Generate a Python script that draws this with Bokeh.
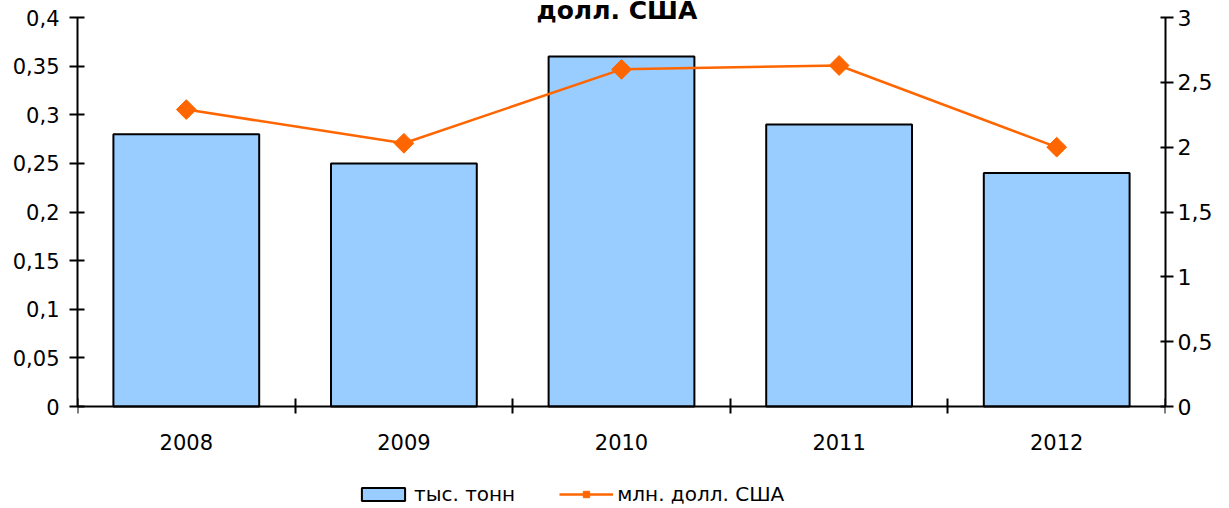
from bokeh.plotting import figure
from bokeh.models import (Range1d, LinearAxis, FixedTicker, CustomJSTickFormatter,
                          Legend, LegendItem, Title)
from bokeh.embed import file_html
from bokeh.resources import INLINE
import math

years = ["2008", "2009", "2010", "2011", "2012"]
tons = [0.28, 0.25, 0.36, 0.29, 0.24]          # тыс. тонн (left axis)
usd = [2.29, 2.03, 2.60, 2.63, 2.00]           # млн. долл. США (right axis)
left_ticks = [0, 0.05, 0.1, 0.15, 0.2, 0.25, 0.3, 0.35, 0.4]
right_ticks = [0, 0.5, 1, 1.5, 2, 2.5, 3]
title_text = "долл. США"
bar_label = "тыс. тонн"
line_label = "млн. долл. США"

FONT = "DejaVu Sans"
FS = "21px"

# layout: plotting area 389 px tall for the value range, plus 102 px below for labels/legend
AXIS_PX = 389
BELOW_PX = 102
LMAX, RMAX = 0.4, 3.0
lmin = -LMAX * BELOW_PX / AXIS_PX
rmin = -RMAX * BELOW_PX / AXIS_PX

xc = [i + 0.5 for i in range(len(years))]

p = figure(width=1229, height=508, frame_width=1088, frame_height=AXIS_PX + BELOW_PX,
           output_backend="svg", toolbar_location=None,
           x_range=Range1d(0, len(years)), y_range=Range1d(lmin, LMAX),
           min_border_left=77, min_border_right=64, min_border_top=0, min_border_bottom=0)
p.outline_line_color = None
p.xgrid.visible = False
p.ygrid.visible = False
p.background_fill_color = "white"

p.extra_y_ranges = {"r": Range1d(rmin, RMAX)}

fmt = CustomJSTickFormatter(code="return String(Math.round(tick*100)/100).replace('.', ',');")

# left axis
ya = p.yaxis[0]
ya.ticker = FixedTicker(ticks=left_ticks)
ya.formatter = fmt
ya.bounds = (0, LMAX)
ya.axis_line_width = 2
ya.axis_line_color = "black"
ya.major_tick_line_width = 2
ya.major_tick_in = 7
ya.major_tick_out = 8
ya.minor_tick_line_color = None
ya.major_label_standoff = 10
ya.major_label_text_font = FONT
ya.major_label_text_font_size = FS
ya.major_label_text_color = "black"

# right axis
ra = LinearAxis(y_range_name="r", ticker=FixedTicker(ticks=right_ticks), formatter=fmt,
                bounds=(0, RMAX))
ra.axis_line_width = 2
ra.axis_line_color = "black"
ra.major_tick_line_width = 2
ra.major_tick_in = 5
ra.major_tick_out = 8
ra.minor_tick_line_color = None
ra.major_label_standoff = 4
ra.major_label_text_font = FONT
ra.major_label_text_font_size = "22px"
ra.major_label_text_color = "black"
p.add_layout(ra, "right")

# x axis drawn at value 0
xa = p.xaxis[0]
xa.fixed_location = 0
xa.ticker = FixedTicker(ticks=xc, minor_ticks=list(range(len(years) + 1)))
xa.major_label_overrides = {x: y for x, y in zip(xc, years)}
xa.axis_line_width = 2
xa.axis_line_color = "black"
xa.major_tick_in = 0
xa.major_tick_out = 0
xa.minor_tick_line_width = 2
xa.minor_tick_line_color = "black"
xa.minor_tick_in = 8
xa.minor_tick_out = 7
xa.major_label_standoff = 20
xa.major_label_text_font = FONT
xa.major_label_text_font_size = FS
xa.major_label_text_color = "black"

bars = p.vbar(x=xc, top=tons, width=0.67, bottom=0, fill_color="#99CCFF",
              line_color="black", line_width=2)
ln = p.line(x=xc, y=usd, y_range_name="r", line_color="#FF6600", line_width=2.5)
mk = p.scatter(x=xc, y=usd, y_range_name="r", marker="square", angle=math.pi / 4,
               size=14, fill_color="#FF6600", line_color="#FF6600")

legend = Legend(items=[LegendItem(label=bar_label, renderers=[bars]),
                       LegendItem(label=line_label, renderers=[ln, mk])],
                orientation="horizontal", location=(279, 2),
                label_text_font=FONT, label_text_font_size="20px",
                label_text_color="black",
                glyph_width=54, glyph_height=16, spacing=44,
                label_standoff=4, border_line_color=None,
                padding=0, margin=0, background_fill_alpha=0)
p.add_layout(legend, "center")

title = Title(text=title_text, text_font=FONT, text_font_size="25px",
              text_font_style="bold", align="left", text_color="black",
              standoff=-14, offset=459)
p.add_layout(title, "above")

open("out.html", "w").write(file_html(p, INLINE))
